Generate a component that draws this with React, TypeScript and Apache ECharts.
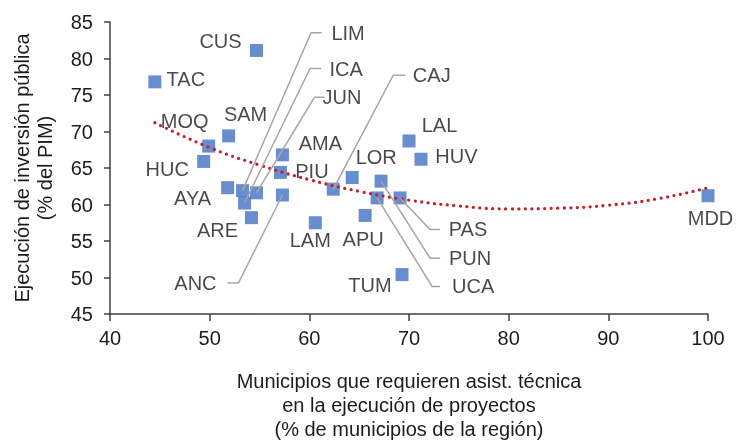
import React, { useEffect, useRef } from 'react';
import * as echarts from 'echarts';

// Regions (labels), x = % of municipalities requiring technical assistance, y = execution (% PIM)
const regions = ['CUS', 'TAC', 'MOQ', 'SAM', 'HUC', 'AYA', 'LIM', 'JUN', 'ICA', 'ARE', 'AMA', 'PIU', 'ANC', 'LAM', 'CAJ', 'LOR', 'APU', 'PUN', 'UCA', 'PAS', 'LAL', 'HUV', 'TUM', 'MDD'];
const xVals = [54.7, 44.5, 49.9, 51.9, 49.4, 51.8, 53.3, 54.7, 53.5, 54.2, 57.3, 57.1, 57.3, 60.6, 62.4, 64.3, 65.6, 67.2, 66.8, 69.1, 70.0, 71.2, 69.3, 100.0];
const yVals = [81.1, 76.8, 68.0, 69.4, 65.9, 62.3, 61.9, 61.6, 60.2, 58.2, 66.8, 64.4, 61.3, 57.5, 62.1, 63.7, 58.5, 63.2, 60.9, 60.9, 68.7, 66.2, 50.4, 61.2];

// Polynomial trend line
const trendX = [44.5, 50, 55, 60, 65, 70, 75, 80, 85, 90, 95, 100];
const trendY = [71.2, 67.8, 65.4, 63.4, 61.8, 60.6, 59.8, 59.4, 59.5, 59.9, 60.8, 62.3];

// Tick settings
const xMin = 40, xMax = 100, xStep = 10;
const yMin = 45, yMax = 85, yStep = 5;

// Label placement (pixel offset of label centre from point)
const labelOffsets: Record<string, [number, number]> = {
  CUS: [-36, -9.5], TAC: [31, -2.5], MOQ: [-24, -25.5], SAM: [17, -21.5], HUC: [-36.5, 8],
  AYA: [-35, 10.5], ARE: [-34, 12.5], AMA: [38, -11.5], PIU: [31.5, -1.5], LAM: [-5, 17.5],
  APU: [-2, 23.5], LOR: [24, -20.5], LAL: [30.5, -15.5], HUV: [35.5, -3.5], TUM: [-32, 10.5],
  MDD: [2.5, 22], LIM: [105.5, -158], ICA: [101.5, -134.5], JUN: [85.5, -95.5], CAJ: [98.5, -114],
  ANC: [-87, 88], PAS: [68, 31.5], PUN: [89, 77], UCA: [96, 88.5],
};
// Leader lines: [start dx, elbow dx] relative to label centre
const leaders: Record<string, [number, number]> = {
  LIM: [-26.5, -37], ICA: [-25, -36], JUN: [-17.5, -27.5], CAJ: [-26.5, -38.5],
  ANC: [32, 43], PAS: [-28, -38], PUN: [-30, -40], UCA: [-33, -41],
};

export default function App() {
  const ref = useRef<HTMLDivElement>(null);
  useEffect(() => {
    const chart = echarts.init(ref.current!, null, { renderer: 'svg' });
    const textColor = '#1c1c1c';
    const font = '"Liberation Sans", Arial, sans-serif';
    const axisColor = '#404040';
    const data = regions.map((n, i) => ({
      name: n,
      value: [xVals[i], yVals[i]],
      label: { offset: labelOffsets[n] },
    }));
    chart.setOption({
      animation: false,
      grid: { left: 110, top: 22, right: 28, bottom: 127 },
      xAxis: {
        type: 'value', min: xMin, max: xMax, interval: xStep,
        axisLine: { lineStyle: { color: axisColor, width: 1.5 } },
        axisTick: { show: true, length: 7, lineStyle: { color: axisColor, width: 1.5 } },
        axisLabel: { fontSize: 20, color: textColor, fontFamily: font, margin: 14 },
        splitLine: { show: false },
        name: 'Municipios que requieren asist. técnica\nen la ejecución de proyectos\n(% de municipios de la región)',
        nameLocation: 'middle', nameGap: 55,
        nameTextStyle: { fontSize: 20, color: textColor, fontFamily: font, lineHeight: 24 },
      },
      yAxis: {
        type: 'value', min: yMin, max: yMax, interval: yStep,
        axisLine: { show: true, lineStyle: { color: axisColor, width: 1.5 } },
        axisTick: { show: true, length: 6, lineStyle: { color: axisColor, width: 1.5 } },
        axisLabel: { fontSize: 20, color: textColor, fontFamily: font, margin: 17 },
        splitLine: { show: false },
        name: 'Ejecución de inversión pública\n(% del PIM)',
        nameLocation: 'middle', nameGap: 54, nameRotate: 90,
        nameTextStyle: { fontSize: 20, color: textColor, fontFamily: font, lineHeight: 23 },
      },
      series: [
        {
          type: 'scatter', symbol: 'rect', symbolSize: 13,
          itemStyle: { color: '#4472C4' },
          data,
          label: { show: true, position: 'inside', formatter: '{b}', fontSize: 20, color: textColor, fontFamily: font },
          z: 2,
        },
        {
          type: 'line', smooth: true, symbol: 'none', showSymbol: false, silent: true,
          data: trendX.map((x, i) => [x, trendY[i]]),
          lineStyle: { color: '#C5202A', width: 3.3, type: [0, 6.5], cap: 'round' },
          z: 4,
        },
      ],
    });
    const graphics = Object.keys(leaders).map((n) => {
      const i = regions.indexOf(n);
      const p = chart.convertToPixel({ gridIndex: 0 }, [xVals[i], yVals[i]]) as number[];
      const off = labelOffsets[n];
      const cx = p[0] + off[0];
      const cy = p[1] + off[1];
      const [s, e] = leaders[n];
      return {
        type: 'polyline',
        shape: { points: [[cx + s, cy], [cx + e, cy], [p[0], p[1]]] },
        style: { stroke: '#A6A6A6', lineWidth: 1.5, fill: null },
        z: 10,
      };
    });
    chart.setOption({ graphic: graphics });
    return () => chart.dispose();
  }, []);
  return <div ref={ref} style={{ position: 'fixed', left: 0, top: 0, width: 736, height: 446 }} />;
}
